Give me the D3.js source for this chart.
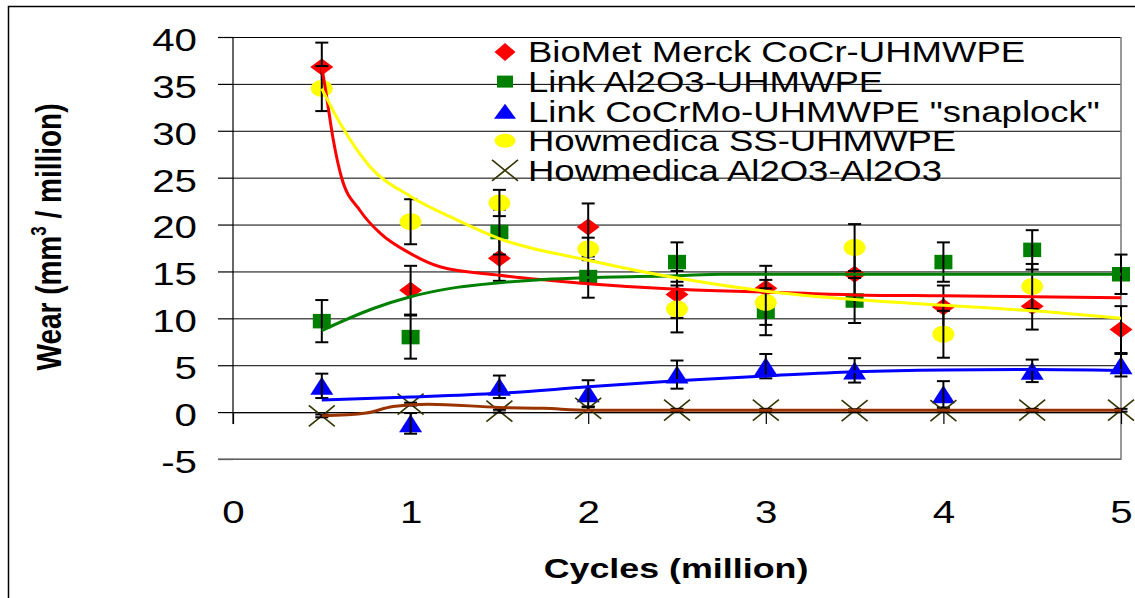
<!DOCTYPE html>
<html>
<head>
<meta charset="utf-8">
<script src="https://cdn.jsdelivr.net/npm/d3@7"></script>
<style>
  html, body { margin: 0; padding: 0; background: #fff; }
  svg { display: block; font-family: "Liberation Sans", Arial, sans-serif; }
  .grid line { stroke: #000; stroke-width: 1; }
  .grid .domain { display: none; }
  .axis .domain { stroke: #000; stroke-width: 1.2; }
  .axis line { stroke: #000; stroke-width: 1.2; }
  .axis text { fill: #000; font-size: 31px; }
  .err { stroke: #000; stroke-width: 2; }
  .trend { fill: none; stroke-width: 3; }
</style>
</head>
<body>
<svg id="chart" width="1135" height="598"></svg>
<script>
/* ---------- data ---------- */
const cycles = [0.5, 1, 1.5, 2, 2.5, 3, 3.5, 4, 4.5, 5];

const biometWear = [36.8, 13.0, 16.4, 19.75, 12.55, 13.2, 14.7, 11.2, 11.3, 8.8];
const biometErr  = [2.6, 2.6, 2.4, 2.5, 2.5, 2.4, 2.4, 2.3, 2.5, 2.5];

const linkAlWear = [9.7, 8.0, 19.2, 14.4, 16.0, 10.7, 11.9, 16.0, 17.3, 14.7];
const linkAlErr  = [2.25, 2.3, 2.4, 2.2, 2.1, 2.5, 2.4, 2.1, 2.1, 2.1];

const linkCoWear = [2.8, -1.2, 2.7, 2.0, 4.0, 4.9, 4.45, 1.9, 4.4, 5.0];
const linkCoErr  = [1.3, 1.1, 1.2, 1.4, 1.5, 1.3, 1.3, 1.4, 1.2, 1.2];

// no stainless-steel point at 5 million cycles
const howSSWear = [34.5, 20.3, 22.3, 17.4, 11.0, 11.7, 17.55, 8.3, 13.4];
const howSSErr  = [2.4, 2.4, 1.4, 1.2, 2.5, 2.4, 2.5, 2.5, 2.4];

const howAlWear = [-0.4, 0.85, 0.1, 0.4, 0.2, 0.2, 0.15, 0.15, 0.2, 0.2];
const howAlErr  = [0.15, 0.15, 0.15, 0.15, 0.15, 0.15, 0.15, 0.15, 0.15, 0.15];

// trend curves, [cycles, wear]
const biometTrend = [[0.5, 36.8], [0.52, 34.5], [0.565, 29.0], [0.61, 25.1], [0.715, 21.5],
  [0.83, 19.05], [1.0, 16.9], [1.165, 15.5], [1.5, 14.6], [2.0, 13.7], [2.5, 13.1],
  [3.0, 12.8], [3.5, 12.5], [4.0, 12.4], [4.5, 12.3], [5.0, 12.2]];
const linkAlTrend = [[0.5, 8.7], [0.79, 11.05], [1.0, 12.3], [1.26, 13.3], [1.5, 13.8],
  [1.75, 14.15], [2.0, 14.35], [2.5, 14.55], [2.75, 14.7], [5.0, 14.7]];
const linkCoTrend = [[0.5, 1.3], [1.0, 1.6], [1.5, 2.0], [2.0, 2.7], [2.5, 3.35],
  [3.0, 3.85], [3.5, 4.3], [4.0, 4.5], [4.5, 4.55], [5.0, 4.45]];
const howSSTrend = [[0.5, 34.5], [0.6, 30.9], [0.77, 26.2], [1.0, 23.0], [1.26, 20.5],
  [1.5, 18.5], [2.0, 16.2], [2.5, 14.3], [3.0, 12.9], [3.5, 12.0], [4.0, 11.4],
  [4.5, 10.8], [5.0, 10.0]];
const howAlTrend = [[0.5, -0.4], [0.75, -0.1], [0.9, 0.6], [1.1, 0.85], [1.5, 0.5],
  [1.75, 0.4], [2.0, 0.2], [5.0, 0.2]];

const seriesNames = [
  "BioMet Merck CoCr-UHMWPE",
  "Link Al2O3-UHMWPE",
  "Link CoCrMo-UHMWPE \"snaplock\"",
  "Howmedica SS-UHMWPE",
  "Howmedica Al2O3-Al2O3"
];

const xTicks = [0, 1, 2, 3, 4, 5];
const yTicks = [-5, 0, 5, 10, 15, 20, 25, 30, 35, 40];

/* ---------- layout ---------- */
const svg = d3.select("#chart");
const plot = { left: 233, right: 1121, top: 37, bottom: 459 };
const stretch = 1.28;   // the original picture is widened horizontally

const x = d3.scaleLinear().domain([0, 5]).range([plot.left, plot.right]);
const y = d3.scaleLinear().domain([-5, 40]).range([plot.bottom, plot.top]);

// plain hyphen for negatives, like the original
const plainNum = d => String(d);

// marker shapes (w x h in px), centred on 0,0
const shapes = {
  diamond: (w, h) => `M0,${-h/2}L${w/2},0L0,${h/2}L${-w/2},0Z`,
  square: (w, h) => `M${-w/2},${-h/2}h${w}v${h}h${-w}Z`,
  triangle: (w, h) => `M0,${-h/2}L${w/2},${h/2}L${-w/2},${h/2}Z`,
  ellipse: (w, h) => `M${-w/2},0a${w/2},${h/2} 0 1,0 ${w},0a${w/2},${h/2} 0 1,0 ${-w},0Z`,
  cross: (w, h) => `M${-w/2},${-h/2}L${w/2},${h/2}M${w/2},${-h/2}L${-w/2},${h/2}`
};

const series = [
  { name: seriesNames[0], wear: biometWear, err: biometErr, trend: biometTrend,
    shape: "diamond", fill: "#ff0000", line: "#ff0000", size: [23, 17], legSize: [21, 18] },
  { name: seriesNames[1], wear: linkAlWear, err: linkAlErr, trend: linkAlTrend,
    shape: "square", fill: "#008000", line: "#008000", size: [18, 14.5], legSize: [16, 12] },
  { name: seriesNames[2], wear: linkCoWear, err: linkCoErr, trend: linkCoTrend,
    shape: "triangle", fill: "#0000ff", line: "#0000ff", size: [23, 18], legSize: [22, 15] },
  { name: seriesNames[3], wear: howSSWear, err: howSSErr, trend: howSSTrend,
    shape: "ellipse", fill: "#ffff00", line: "#ffff00", size: [22, 17], legSize: [21, 14] },
  { name: seriesNames[4], wear: howAlWear, err: howAlErr, trend: howAlTrend,
    shape: "cross", fill: "none", line: "#993300", size: [26, 21], legSize: [26, 21] }
];

function drawMarker(sel, s, size) {
  sel.attr("d", shapes[s.shape](size[0], size[1]))
    .attr("fill", s.fill)
    .attr("stroke", s.shape === "cross" ? "#333300" : "none")
    .attr("stroke-width", 1.6);
}

/* ---------- outer frame ---------- */
svg.append("rect")
  .attr("x", 8.5).attr("y", 6.5).attr("width", 1140).attr("height", 600)
  .attr("fill", "none").attr("stroke", "#000").attr("stroke-width", 1.5);

/* ---------- grid + y axis ---------- */
svg.append("g").attr("class", "grid")
  .attr("transform", `translate(${plot.left},0)`)
  .call(d3.axisLeft(y).tickValues(yTicks).tickSize(-(plot.right - plot.left)).tickFormat(""));

const yAxisG = svg.append("g").attr("class", "axis y-axis")
  .attr("transform", `translate(${plot.left},0)`)
  .call(d3.axisLeft(y).tickValues(yTicks).tickSize(15).tickFormat(plainNum));
yAxisG.select(".domain").remove();
yAxisG.selectAll("text")
  .attr("x", null).attr("dy", null)
  .attr("text-anchor", "end")
  .attr("transform", `translate(-36,13.4) scale(1.3,1)`);

// vertical axis line stops just below zero, like the original
svg.append("line")
  .attr("x1", plot.left).attr("x2", plot.left)
  .attr("y1", y(40)).attr("y2", y(0) + 12)
  .attr("stroke", "#000").attr("stroke-width", 1.2);

// plot area border (right + bottom)
svg.append("path")
  .attr("d", `M${plot.right},${y(40)}V${y(-5)}H${plot.left - 15}`)
  .attr("fill", "none").attr("stroke", "#808080").attr("stroke-width", 1.6);

/* ---------- x axis at wear = 0 ---------- */
const xAxisG = svg.append("g").attr("class", "axis x-axis")
  .attr("transform", `translate(0,${y(0)})`)
  .call(d3.axisBottom(x).tickValues(xTicks).tickSize(12).tickSizeOuter(0).tickFormat(plainNum));
xAxisG.selectAll("text")
  .attr("y", null).attr("dy", null)
  .attr("text-anchor", "middle")
  .attr("transform", `translate(0,111) scale(1.3,1)`);

/* ---------- markers + error bars ---------- */
series.forEach(s => {
  const pts = s.wear.map((v, i) => ({ c: cycles[i], v: v, e: s.err[i] }));
  const g = svg.append("g");

  g.selectAll("path.mk").data(pts).join("path")
    .attr("class", "mk")
    .attr("transform", d => `translate(${x(d.c)},${y(d.v)})`)
    .call(sel => drawMarker(sel, s, s.size));

  const eb = g.selectAll("g.eb").data(pts).join("g").attr("class", "eb");
  eb.append("line").attr("class", "err")
    .attr("x1", d => x(d.c)).attr("x2", d => x(d.c))
    .attr("y1", d => y(d.v + d.e)).attr("y2", d => y(d.v - d.e));
  [1, -1].forEach(sign => {
    eb.append("line").attr("class", "err")
      .attr("x1", d => x(d.c) - 6.5).attr("x2", d => x(d.c) + 6.5)
      .attr("y1", d => y(d.v + sign * d.e)).attr("y2", d => y(d.v + sign * d.e));
  });
});

/* ---------- trend curves (drawn over markers) ---------- */
const trendLine = d3.line()
  .x(d => x(d[0])).y(d => y(d[1]))
  .curve(d3.curveMonotoneX);

series.forEach(s => {
  svg.append("path").attr("class", "trend")
    .attr("d", trendLine(s.trend))
    .attr("stroke", s.line);
});

/* ---------- legend ---------- */
const legend = svg.append("g").attr("transform", "translate(505,52)");
const legRow = legend.selectAll("g").data(series).join("g")
  .attr("transform", (d, i) => `translate(0,${i * 29.6})`);
legRow.append("path").each(function(d) { drawMarker(d3.select(this), d, d.legSize); });
legRow.append("text")
  .attr("transform", `translate(23,10.3) scale(1.26,1)`)
  .attr("font-size", 29)
  .text(d => d.name);

/* ---------- axis titles ---------- */
svg.append("text")
  .attr("transform", `translate(676,578) scale(${stretch},1)`)
  .attr("text-anchor", "middle")
  .attr("font-size", 28).attr("font-weight", "bold")
  .text("Cycles (million)");

const yTitle = svg.append("text")
  .attr("transform", `translate(61,237) rotate(-90) scale(1,${stretch})`)
  .attr("text-anchor", "middle")
  .attr("font-size", 28).attr("font-weight", "bold");
yTitle.append("tspan").text("Wear (mm");
yTitle.append("tspan").attr("font-size", 17).attr("dy", -12).text("3");
yTitle.append("tspan").attr("dy", 12).text(" / million)");
</script>
</body>
</html>
